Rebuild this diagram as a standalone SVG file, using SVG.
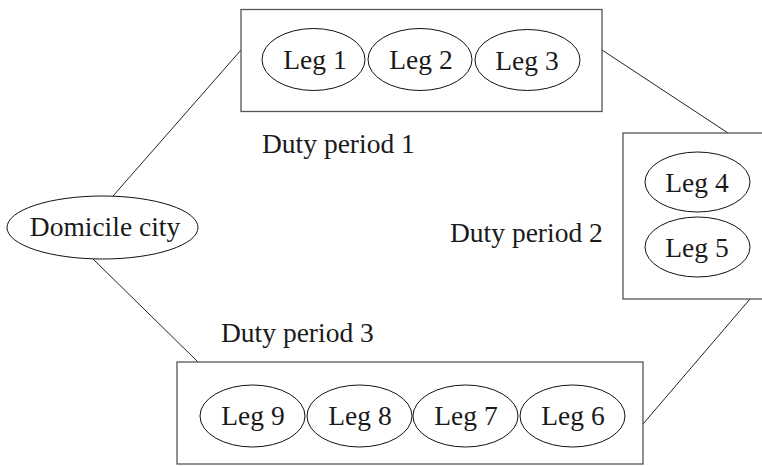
<svg xmlns="http://www.w3.org/2000/svg" width="762" height="466" viewBox="0 0 762 466">
  <style>
    .box { fill: none; stroke: #555; stroke-width: 1.3; }
    .leg { fill: #fff; stroke: #111; stroke-width: 1; }
    .link { stroke: #222; stroke-width: 1; fill: none; }
    text { font-family: "Liberation Serif", "Times New Roman", serif; font-size: 27.5px; fill: #1a1a1a; }
    .c { text-anchor: middle; }
  </style>
  <rect width="762" height="466" fill="#fff"/>

  <!-- connectors -->
  <g id="connectors">
    <line class="link" x1="113" y1="196" x2="241" y2="50"/>
    <line class="link" x1="602" y1="50" x2="728" y2="133"/>
    <line class="link" x1="750" y1="299" x2="643" y2="424"/>
    <line class="link" x1="93" y1="259" x2="198" y2="362"/>
  </g>

  <!-- home base -->
  <g id="domicile">
    <ellipse class="leg" cx="102.5" cy="227.5" rx="95.5" ry="31.5"/>
    <text class="c" x="105" y="236">Domicile city</text>
  </g>

  <!-- duty period 1 -->
  <g id="duty1">
    <rect class="box" x="241" y="9.5" width="361" height="102"/>
    <text x="262" y="153">Duty period 1</text>
  </g>
  <g id="leg1">
    <ellipse class="leg" cx="313.5" cy="59.5" rx="51.5" ry="31"/>
    <text class="c" x="315" y="69">Leg 1</text>
  </g>
  <g id="leg2">
    <ellipse class="leg" cx="420" cy="59.5" rx="52" ry="31"/>
    <text class="c" x="421" y="69">Leg 2</text>
  </g>
  <g id="leg3">
    <ellipse class="leg" cx="527.5" cy="60" rx="52.5" ry="30.5"/>
    <text class="c" x="527" y="70">Leg 3</text>
  </g>

  <!-- duty period 2 -->
  <g id="duty2">
    <rect class="box" x="623" y="133" width="145" height="166"/>
    <text x="450" y="242">Duty period 2</text>
  </g>
  <g id="leg4">
    <ellipse class="leg" cx="697.5" cy="182" rx="52.5" ry="30"/>
    <text class="c" x="697" y="192">Leg 4</text>
  </g>
  <g id="leg5">
    <ellipse class="leg" cx="697.5" cy="247" rx="52.5" ry="30"/>
    <text class="c" x="697" y="257">Leg 5</text>
  </g>

  <!-- duty period 3 -->
  <g id="duty3">
    <rect class="box" x="177" y="362" width="466" height="102"/>
    <text x="221" y="342">Duty period 3</text>
  </g>
  <g id="leg9">
    <ellipse class="leg" cx="252.5" cy="416" rx="52.5" ry="31"/>
    <text class="c" x="253" y="425">Leg 9</text>
  </g>
  <g id="leg8">
    <ellipse class="leg" cx="359.5" cy="416" rx="52.5" ry="31"/>
    <text class="c" x="360" y="425">Leg 8</text>
  </g>
  <g id="leg7">
    <ellipse class="leg" cx="465.5" cy="416" rx="52.5" ry="31"/>
    <text class="c" x="466" y="425">Leg 7</text>
  </g>
  <g id="leg6">
    <ellipse class="leg" cx="572.5" cy="416" rx="52.5" ry="31"/>
    <text class="c" x="573" y="425">Leg 6</text>
  </g>
</svg>
